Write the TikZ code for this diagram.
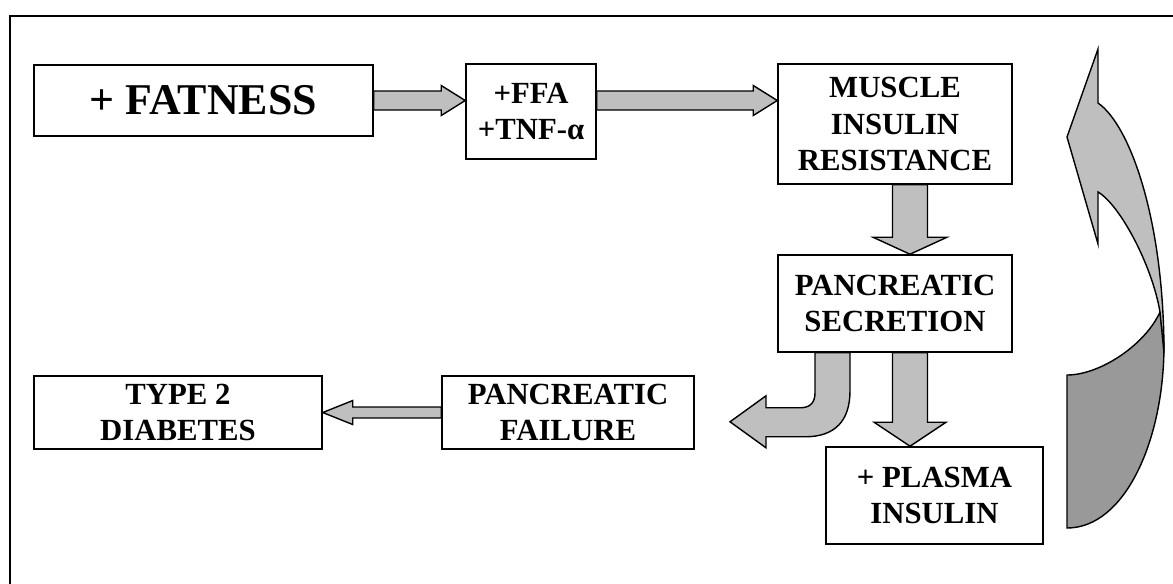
\documentclass[tikz,border=0pt]{standalone}
\usepackage{fontspec}
\setmainfont{Liberation Serif}
\usetikzlibrary{calc}

% block arrow: tail, tip, shaft half width, head half width, head length
\newcommand{\hbarrow}[5]{%
  \draw[blockarrow] ($(#1)+(0,{#3})$) -- ($(#2)+({-(#5)},{#3})$) -- ($(#2)+({-(#5)},{#4})$)
    -- (#2) -- ($(#2)+({-(#5)},{-(#4)})$) -- ($(#2)+({-(#5)},{-(#3)})$) -- ($(#1)+(0,{-(#3)})$) -- cycle;}
\newcommand{\vbarrow}[5]{%
  \draw[blockarrow] ($(#1)+({#3},0)$) -- ($(#2)+({#3},{-(#5)})$) -- ($(#2)+({#4},{-(#5)})$)
    -- (#2) -- ($(#2)+({-(#4)},{-(#5)})$) -- ($(#2)+({-(#3)},{-(#5)})$) -- ($(#1)+({-(#3)},0)$) -- cycle;}

\begin{document}
\begin{tikzpicture}[x=0.02cm,y=-0.02cm,
    boxnode/.style={draw,line width=0.9pt,align=center,inner sep=0pt,
      font=\bfseries\fontsize{17.5}{21}\selectfont},
    blockarrow/.style={draw,line width=0.8pt,fill=black!25,line join=miter},
    darkpart/.style={draw,line width=0.8pt,fill=black!40}]
    \useasboundingbox (0,0) rectangle (1173,583);
    \clip (0,0) rectangle (1173,583);
    % outer frame
    \draw[line width=1.4pt] (10,600) -- (10,16) -- (1190,16);
    % boxes
    \node[boxnode,minimum width=6.78cm,minimum height=1.42cm,
      font=\bfseries\fontsize{25}{30}\selectfont] (fat) at (203.5,100.5) {+ FATNESS};
    \node[boxnode,minimum width=2.6cm,minimum height=1.9cm] (ffa) at (531,111.5)
      {+FFA\\+TNF-α};
    \node[boxnode,minimum width=4.68cm,minimum height=2.4cm] (musc) at (895,124)
      {MUSCLE\\INSULIN\\RESISTANCE};
    \node[boxnode,minimum width=4.68cm,minimum height=1.94cm] (sec) at (895,303.5)
      {PANCREATIC\\SECRETION};
    \node[boxnode,minimum width=4.34cm,minimum height=1.94cm] (plasma) at (934.5,495.5)
      {+ PLASMA\\INSULIN};
    \node[boxnode,minimum width=5.04cm,minimum height=1.46cm] (fail) at (568,412.5)
      {PANCREATIC\\FAILURE};
    \node[boxnode,minimum width=5.76cm,minimum height=1.46cm] (typ) at (178,412.5)
      {TYPE 2\\DIABETES};
    % straight block arrows
    \coordinate (a1) at (ffa.west |- fat.east);
    \coordinate (a2t) at (ffa.east |- fat.east);
    \coordinate (a2) at (musc.west |- fat.east);
    \coordinate (d1t) at ($(musc.south)+(15,0)$);
    \coordinate (d1) at ($(sec.north)+(15,0)$);
    \coordinate (d2t) at ($(sec.south)+(15,0)$);
    \coordinate (d2) at ($(sec.south |- plasma.north)+(15,0)$);
    \hbarrow{fat.east}{a1}{9.5}{15}{24}
    \hbarrow{a2t}{a2}{9.5}{15}{24}
    \vbarrow{d1t}{d1}{17.5}{37}{17}
    \vbarrow{d2t}{d2}{17.5}{36}{24}
    \hbarrow{fail.west}{typ.east}{5.5}{12}{-30}
    % bent arrow to failure
    \coordinate (bend) at ($(sec.south)+(-80,0)$);
    \draw[blockarrow] (bend) -- ++(0,40) .. controls +(0,10) and +(10,0) .. ++(-15,15)
      -- ++(-34,0) -- ++(0,-12) -- ++(-36,26) -- ++(36,26) -- ++(0,-11) -- ++(39,0)
      .. controls +(30,0) and +(0,30) .. ++(45,-46) -- ++(0,-38) -- cycle;
    % curved feedback arrow
    \draw[darkpart] (1067,375) .. controls (1100,375) and (1145,345) .. (1160,312)
      -- (1164,345) .. controls (1164,440) and (1125,528) .. (1067,528) -- cycle;
    \draw[blockarrow] (1067,137) -- (1098,49) -- (1098,103)
      .. controls (1130,125) and (1164,220) .. (1164,353) -- (1160,312)
      .. controls (1152,265) and (1120,205) .. (1098,192) -- (1098,244) -- cycle;
\end{tikzpicture}
\end{document}
